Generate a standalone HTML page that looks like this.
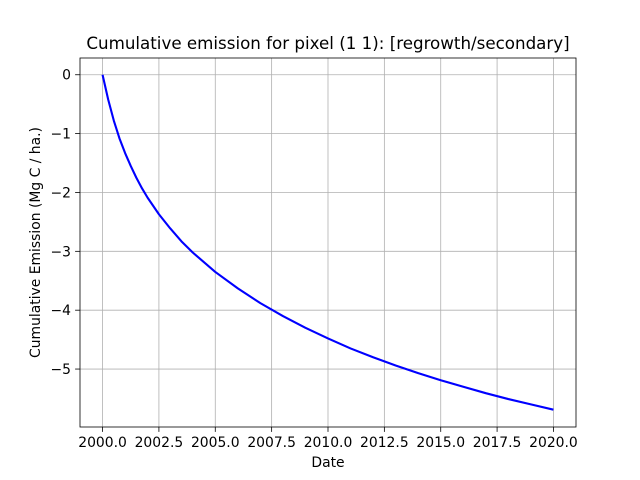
<!DOCTYPE html>
<html><head><meta charset="utf-8"><style>
body{margin:0;background:#fff;}
svg{display:block;font-family:"DejaVu Sans","Liberation Sans",sans-serif;}
</style></head><body>
<svg id="c" width="640" height="480"></svg>
<script>
const years=[2000,2000.25,2000.5,2000.75,2001,2001.25,2001.5,2001.75,2002,2002.5,2003,2003.5,2004,2005,2006,2007,2008,2009,2010,2011,2012,2013,2014,2015,2016,2017,2018,2019,2020];
const emission=[0,-0.42,-0.78,-1.08,-1.33,-1.55,-1.75,-1.93,-2.09,-2.37,-2.61,-2.83,-3.02,-3.35,-3.63,-3.88,-4.1,-4.3,-4.48,-4.65,-4.8,-4.94,-5.07,-5.19,-5.3,-5.41,-5.51,-5.6,-5.69];
const xTicks=[2000,2002.5,2005,2007.5,2010,2012.5,2015,2017.5,2020];
const xTickLabels=["2000.0","2002.5","2005.0","2007.5","2010.0","2012.5","2015.0","2017.5","2020.0"];
const yTicks=[0,-1,-2,-3,-4,-5];
const yTickLabels=["0","−1","−2","−3","−4","−5"];
const L=80,R=576,T=58,B=427;
const x0=1999,x1=2021,y0=-5.9845,y1=0.2845;
const X=v=>L+(v-x0)/(x1-x0)*(R-L);
const Y=v=>B-(v-y0)/(y1-y0)*(B-T);
const svg=document.getElementById('c');
const NS='http://www.w3.org/2000/svg';
function mk(t,a,txt){const e=document.createElementNS(NS,t);for(const k in a)e.setAttribute(k,a[k]);if(txt!==undefined)e.textContent=txt;svg.appendChild(e);return e;}
xTicks.forEach((v,i)=>{
 const g=mk('line',{x1:X(v),x2:X(v),y1:T,y2:B,stroke:'#b0b0b0','stroke-width':0.8});
 
 
 mk('line',{x1:X(v),x2:X(v),y1:B,y2:B+4.9,stroke:'#000','stroke-width':0.8});
 const t=mk('text',{x:X(v),y:B+20,'font-size':13.9,'text-anchor':'middle'},xTickLabels[i]);
 
 
});
yTicks.forEach((v,i)=>{
 const g=mk('line',{x1:L,x2:R,y1:Y(v),y2:Y(v),stroke:'#b0b0b0','stroke-width':0.8});
 
 
 mk('line',{x1:L-4.9,x2:L,y1:Y(v),y2:Y(v),stroke:'#000','stroke-width':0.8});
 const t=mk('text',{x:L-9,y:Y(v)+5,'font-size':13.9,'text-anchor':'end'},yTickLabels[i]);
 
 
});
const p=mk('path',{d:years.map((v,i)=>(i?'L':'M')+X(v).toFixed(2)+','+Y(emission[i]).toFixed(2)).join(''),fill:'none',stroke:'#0000ff','stroke-width':2.1,'stroke-linejoin':'round'});


const f=mk('rect',{x:L,y:T,width:R-L,height:B-T,fill:'none',stroke:'#000','stroke-width':0.8});


const ti=mk('text',{x:(L+R)/2,y:49,'font-size':16.7,'text-anchor':'middle'},'Cumulative emission for pixel (1 1): [regrowth/secondary]');


const xl=mk('text',{x:(L+R)/2,y:467,'font-size':13.9,'text-anchor':'middle'},'Date');


const yl=mk('text',{x:0,y:0,'font-size':13.9,'text-anchor':'middle',transform:`translate(40,${(T+B)/2}) rotate(-90)`},'Cumulative Emission (Mg C / ha.)');


</script>
</body></html>
